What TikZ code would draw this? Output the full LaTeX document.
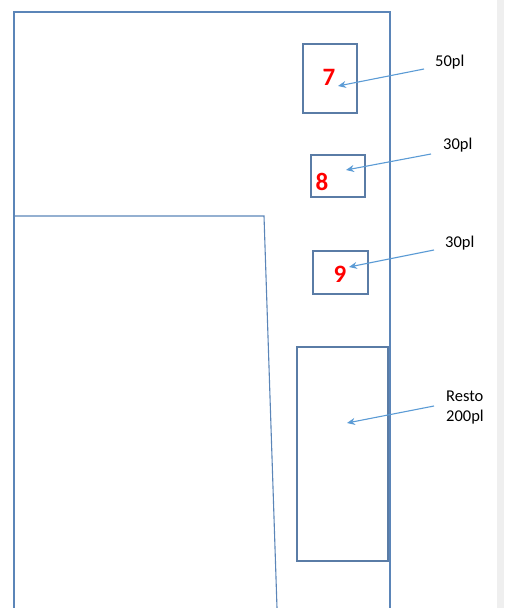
\documentclass[tikz,border=0pt]{standalone}
\usepackage{fontspec}
\setmainfont{Carlito}
\usetikzlibrary{arrows.meta}
\definecolor{frame}{HTML}{5B85B8}
\definecolor{boxc}{HTML}{5A7CA6}
\definecolor{arr}{HTML}{5B9BD5}
\definecolor{strip}{HTML}{EFEFEF}
\tikzset{
  box/.style={draw=boxc, line width=1.3pt},
  num/.style={text=red, font=\bfseries\fontsize{25}{27}\selectfont, inner sep=0pt},
  lab/.style={font=\fontsize{16.5}{20}\selectfont, inner sep=0pt, align=left, anchor=west},
  pointer/.style={draw=arr, line width=1.1pt, -{Stealth[length=8pt,width=7pt]}},
  wall/.style={draw=frame, line width=1.1pt}
}
\begin{document}
\begin{tikzpicture}[x=1pt,y=-1pt]
\useasboundingbox (0,0) rectangle (504,608);
\fill[strip] (497,0) rectangle (504,608);
% outer frame
\draw[wall] (14,608) -- (14,12) -- (390,12) -- (390,608);
\draw[wall] (14,216) -- (264,216) -- (277,608);
% boxes
\draw[box] (303,44) rectangle (357,113);
\draw[box] (311,155) rectangle (365,197);
\draw[box] (313,251) rectangle (368,294);
\draw[box] (297,347) rectangle (388,561);
\node[num] (n7) at (329,77) {7};
\node[num] (n8) at (322,182) {8};
\node[num] (n9) at (340,274) {9};
\coordinate (t7) at (338,86);
\coordinate (t8) at (346,170);
\coordinate (t9) at (349,267);
\coordinate (tr) at (347,423);
\node[lab] (l7) at (435,62) {50pl};
\node[lab] (l8) at (443,145) {30pl};
\node[lab] (l9) at (445,243) {30pl};
\node[lab] (lr) at (446,408) {Resto\\200pl};
\draw[pointer] (424,69) -- (t7);
\draw[pointer] (431,154) -- (t8);
\draw[pointer] (434,250) -- (t9);
\draw[pointer] (434,406) -- (tr);
\end{tikzpicture}
\end{document}
